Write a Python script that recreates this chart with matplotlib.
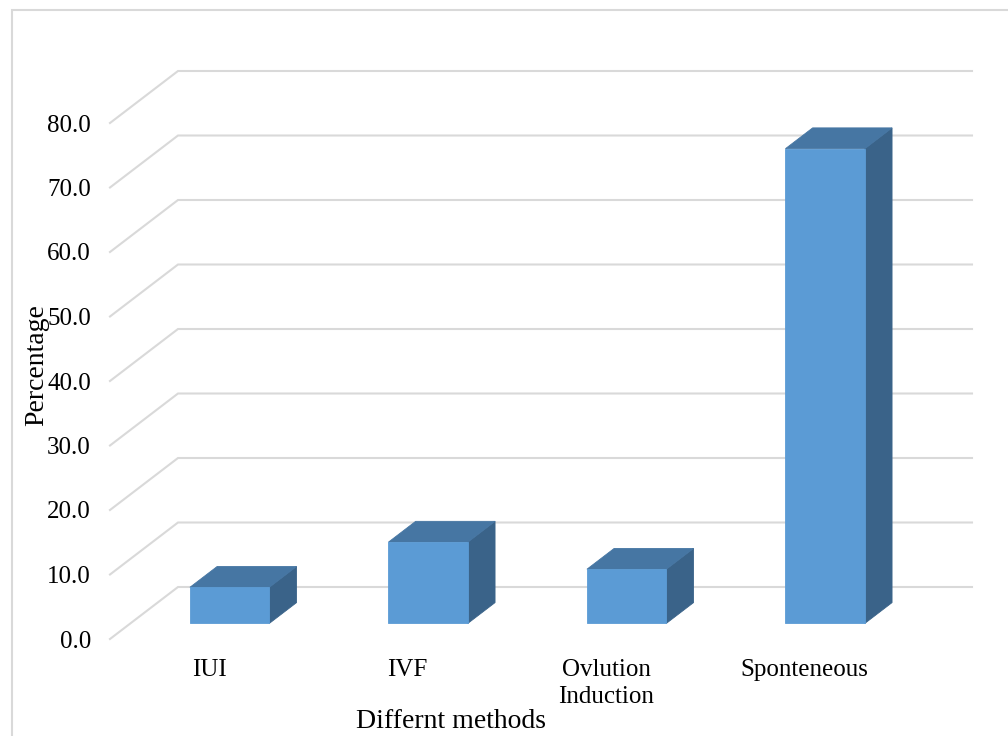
import matplotlib
matplotlib.use("Agg")
import matplotlib.pyplot as plt
from matplotlib.patches import Polygon, Rectangle

# ---- data ----
categories = ["IUI", "IVF", "Ovlution\nInduction", "Sponteneous"]
percentages = [5.6, 12.6, 8.4, 73.6]
y_ticks = [0, 10, 20, 30, 40, 50, 60, 70, 80]
x_title = "Differnt methods"
y_title = "Percentage"

# ---- layout (pixels on a 1008x736 canvas) ----
W, H = 1008, 736
DPI = 100
x_front = 110.0      # left edge of the front floor
slot_px = 198.5      # width of one category slot
y_zero = 639.0       # front baseline (value 0)
px_per_unit = 6.45   # pixels per 1 percentage point
depth_dx, depth_dy = 68.0, 52.0   # oblique depth offset in pixels
gap_width = 1.5      # gap between bars relative to bar width
bar_depth = (0.3, 0.7)

face_front = "#5B9BD5"
face_top = "#4676A3"
face_side = "#3A6389"
grid_col = "#D9D9D9"
font = "Liberation Serif"
fs_tick = 18
fs_title = 20

fig = plt.figure(figsize=(W / DPI, H / DPI), dpi=DPI)
ax = fig.add_axes([0, 0, 1, 1])
# data x: category slots, data y: percentage
ax.set_xlim(-x_front / slot_px, (W - x_front) / slot_px)
ax.set_ylim((y_zero - H) / px_per_unit, y_zero / px_per_unit)
ax.axis("off")

ddx = depth_dx / slot_px
ddy = depth_dy / px_per_unit
n = len(categories)


def proj(u, v, d):
    """Oblique projection: slot position u, value v, depth fraction d."""
    return (u + d * ddx, v + d * ddy)


def px_x(x):
    return (x - x_front) / slot_px


def px_y(y):
    return (y_zero - y) / px_per_unit


# chart-area border
fig.patches.append(Rectangle((12 / W, -0.05), 1.1, (H - 10) / H + 0.05,
                             transform=fig.transFigure, fill=False,
                             edgecolor=grid_col, linewidth=1.5))

# gridlines on the side and back walls
for t in y_ticks:
    pts = [proj(0, t, 0), proj(0, t, 1), proj(n, t, 1)]
    ax.plot([p[0] for p in pts], [p[1] for p in pts], color=grid_col,
            linewidth=1.5, zorder=1, solid_joinstyle="miter")
    ax.text(px_x(91), t - 2.5 / px_per_unit, f"{t:.1f}", ha="right",
            va="center", fontsize=fs_tick, family=font, color="black")

# bars as oblique boxes
bw = 1.0 / (1.0 + gap_width)
d0, d1 = bar_depth
for i, val in enumerate(percentages):
    u0 = i + (1 - bw) / 2
    u1 = u0 + bw
    front = [proj(u0, 0, d0), proj(u1, 0, d0), proj(u1, val, d0), proj(u0, val, d0)]
    top = [proj(u0, val, d0), proj(u1, val, d0), proj(u1, val, d1), proj(u0, val, d1)]
    side = [proj(u1, 0, d0), proj(u1, 0, d1), proj(u1, val, d1), proj(u1, val, d0)]
    for poly, col in ((side, face_side), (top, face_top), (front, face_front)):
        ax.add_patch(Polygon(poly, closed=True, facecolor=col,
                             edgecolor=col, linewidth=0.6, zorder=3))
    ax.text(i + 0.5, px_y(659), categories[i],
            ha="center", va="top", fontsize=fs_tick, family=font,
            linespacing=1.3)

ax.text(px_x(451), px_y(722), x_title,
        ha="center", va="center", fontsize=fs_title, family=font)
ax.text(px_x(37), px_y(365), y_title,
        ha="center", va="center", rotation=90, fontsize=fs_title, family=font)

fig.savefig("out.png", dpi=DPI)
